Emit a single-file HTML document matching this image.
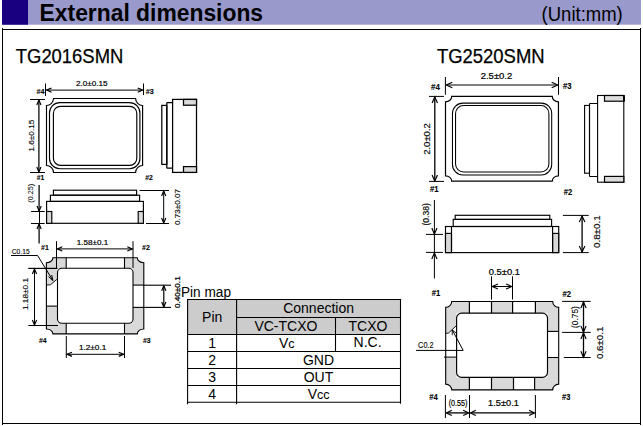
<!DOCTYPE html>
<html lang="en">
<head>
<meta charset="utf-8">
<title>External dimensions</title>
<style>
html,body{margin:0;padding:0;background:#fff;}
body{width:643px;height:426px;overflow:hidden;}
svg{display:block;}
svg text{font-family:"Liberation Sans",sans-serif;}
</style>
</head>
<body>
<svg width="643" height="426" viewBox="0 0 643 426">
<rect x="0" y="0" width="643" height="426" fill="#fff"/>
<rect x="2" y="0" width="639" height="24.7" fill="#9999cc"/>
<rect x="2" y="0" width="26" height="24.7" fill="#180080"/>
<text x="39.6" y="20.6" font-size="23" font-weight="bold" textLength="223.5" lengthAdjust="spacingAndGlyphs" fill="#000">External dimensions</text>
<text x="541.6" y="20.6" font-size="19.3" textLength="81.2" lengthAdjust="spacingAndGlyphs" fill="#000">(Unit:mm)</text>
<line x1="2" y1="29.5" x2="641" y2="29.5" stroke="#000" stroke-width="1" />
<line x1="2" y1="423.5" x2="641" y2="423.5" stroke="#000" stroke-width="1" />
<line x1="2.5" y1="28" x2="2.5" y2="425" stroke="#000" stroke-width="1" />
<line x1="640.5" y1="28" x2="640.5" y2="425" stroke="#000" stroke-width="1" />
<text x="15.8" y="62.7" font-size="19.3" textLength="107.5" lengthAdjust="spacingAndGlyphs" stroke="#000" stroke-width="0.25" fill="#000">TG2016SMN</text>
<text x="436.9" y="62.8" font-size="19.3" textLength="107.7" lengthAdjust="spacingAndGlyphs" stroke="#000" stroke-width="0.25" fill="#000">TG2520SMN</text>
<path d="M53.5,98.5 L135.6,98.5 A7,7 0 0 0 142.6,105.5 L142.6,165.5 A7,7 0 0 0 135.6,172.5 L53.5,172.5 A7,7 0 0 0 46.5,165.5 L46.5,105.5 A7,7 0 0 0 53.5,98.5 Z" fill="none" stroke="#000" stroke-width="1.15" />
<rect x="49.5" y="102.6" width="90.4" height="66.1" rx="10.3" fill="none" stroke="#000" stroke-width="1.15"/>
<rect x="53.4" y="106.4" width="83.4" height="58.9" rx="7" fill="none" stroke="#000" stroke-width="1.15"/>
<line x1="45.5" y1="83.5" x2="45.5" y2="96" stroke="#000" stroke-width="1" />
<line x1="143.5" y1="83.5" x2="143.5" y2="95" stroke="#000" stroke-width="1" />
<line x1="46.5" y1="90.1" x2="142.7" y2="90.1" stroke="#000" stroke-width="1" />
<path d="M51.5,88.0 L46.5,90.1 L51.5,92.19999999999999" fill="none" stroke="#000" stroke-width="1.15" />
<path d="M137.7,88.0 L142.7,90.1 L137.7,92.19999999999999" fill="none" stroke="#000" stroke-width="1.15" />
<text x="91.7" y="86.2" font-size="7.9" text-anchor="middle" textLength="31.6" lengthAdjust="spacingAndGlyphs" stroke="#000" stroke-width="0.2" fill="#000">2.0±0.15</text>
<text x="36.5" y="94" font-size="7.4" font-weight="bold" textLength="8" lengthAdjust="spacingAndGlyphs" stroke="#000" stroke-width="0.1" fill="#000">#4</text>
<text x="145.8" y="94" font-size="7.4" font-weight="bold" textLength="8" lengthAdjust="spacingAndGlyphs" stroke="#000" stroke-width="0.1" fill="#000">#3</text>
<text x="36.8" y="180" font-size="7.4" font-weight="bold" textLength="7.6" lengthAdjust="spacingAndGlyphs" stroke="#000" stroke-width="0.1" fill="#000">#1</text>
<text x="145.2" y="180" font-size="7.4" font-weight="bold" textLength="7.6" lengthAdjust="spacingAndGlyphs" stroke="#000" stroke-width="0.1" fill="#000">#2</text>
<line x1="30" y1="99.5" x2="45" y2="99.5" stroke="#000" stroke-width="1" />
<line x1="30" y1="172.5" x2="45" y2="172.5" stroke="#000" stroke-width="1" />
<line x1="38.9" y1="100" x2="38.9" y2="172" stroke="#000" stroke-width="1.25" />
<path d="M36.8,105.0 L38.9,100 L41.0,105.0" fill="none" stroke="#000" stroke-width="1.15" />
<path d="M36.8,167.0 L38.9,172 L41.0,167.0" fill="none" stroke="#000" stroke-width="1.15" />
<text x="33.6" y="135.6" font-size="7.9" text-anchor="middle" textLength="31.8" lengthAdjust="spacingAndGlyphs" transform="rotate(-90 33.6 135.6)" stroke="#000" stroke-width="0.14" fill="#000">1.6±0.15</text>
<rect x="161.8" y="105.4" width="5.0" height="59.0" fill="none" stroke="#000" stroke-width="1.25"/>
<path d="M166.8,102.5 L172.6,102.5 M166.8,168.2 L172.6,168.2 M166.8,102.5 L166.8,168.2" fill="none" stroke="#000" stroke-width="1.25" />
<rect x="172.6" y="99.4" width="23.9" height="73.0" fill="none" stroke="#000" stroke-width="1.25"/>
<rect x="183.5" y="99.4" width="13.0" height="5.8" fill="#d9d9d9" stroke="#000" stroke-width="1.25"/>
<rect x="183.5" y="166.6" width="13.0" height="5.8" fill="#d9d9d9" stroke="#000" stroke-width="1.25"/>
<rect x="53.4" y="190.2" width="83.2" height="5.0" fill="none" stroke="#000" stroke-width="1.15"/>
<rect x="50.4" y="195.2" width="89.2" height="6.2" fill="none" stroke="#000" stroke-width="1.15"/>
<rect x="46.6" y="201.4" width="96.8" height="21.9" fill="none" stroke="#000" stroke-width="1.15"/>
<rect x="46.6" y="211.5" width="5.2" height="11.8" fill="#d9d9d9" stroke="#000" stroke-width="1.15"/>
<rect x="138.2" y="211.5" width="5.2" height="11.8" fill="#d9d9d9" stroke="#000" stroke-width="1.15"/>
<line x1="31" y1="211.5" x2="44.7" y2="211.5" stroke="#000" stroke-width="1" />
<line x1="31" y1="223.5" x2="44.7" y2="223.5" stroke="#000" stroke-width="1" />
<line x1="39.1" y1="185" x2="39.1" y2="211" stroke="#000" stroke-width="1.25" />
<line x1="39.5" y1="211" x2="39.5" y2="224" stroke="#000" stroke-width="1" />
<line x1="39.1" y1="224" x2="39.1" y2="243.5" stroke="#000" stroke-width="1.25" />
<path d="M37.0,206.0 L39.1,211 L41.2,206.0" fill="none" stroke="#000" stroke-width="1.15" />
<path d="M37.0,229.0 L39.1,224 L41.2,229.0" fill="none" stroke="#000" stroke-width="1.15" />
<text x="33.2" y="193.2" font-size="7.9" text-anchor="middle" textLength="19" lengthAdjust="spacingAndGlyphs" transform="rotate(-90 33.2 193.2)" stroke="#000" stroke-width="0.04" fill="#000">(0.25)</text>
<line x1="139.5" y1="190.5" x2="169" y2="190.5" stroke="#000" stroke-width="1" />
<line x1="146" y1="223.5" x2="169" y2="223.5" stroke="#000" stroke-width="1" />
<line x1="163.7" y1="191" x2="163.7" y2="223" stroke="#000" stroke-width="1" />
<path d="M161.6,196 L163.7,191 L165.79999999999998,196" fill="none" stroke="#000" stroke-width="1.15" />
<path d="M161.6,218 L163.7,223 L165.79999999999998,218" fill="none" stroke="#000" stroke-width="1.15" />
<text x="180" y="207" font-size="7.9" text-anchor="middle" textLength="36" lengthAdjust="spacingAndGlyphs" transform="rotate(-90 180 207)" stroke="#000" stroke-width="0.14" fill="#000">0.73±0.07</text>
<path d="M52.9,257.8 L66.2,257.8 L66.2,268.3 L57.5,268.3 L57.5,278.9 L50.4,284.8 L46.4,285 L46.4,262.7 A6.5,4.9 0 0 0 52.9,257.8 Z" fill="#d9d9d9" stroke="none" stroke-width="1" />
<path d="M137.3,257.8 L124.5,257.8 L124.5,268.3 L133.0,268.3 L133.0,285.1 L143.8,285.1 L143.8,262.7 A6.5,4.9 0 0 1 137.3,257.8 Z" fill="#d9d9d9" stroke="none" stroke-width="1" />
<path d="M52.9,333.9 L66.2,333.9 L66.2,323.3 L57.5,323.3 L57.5,306.1 L46.4,306.1 L46.4,329.0 A6.5,4.9 0 0 1 52.9,333.9 Z" fill="#d9d9d9" stroke="none" stroke-width="1" />
<path d="M137.3,333.9 L124.5,333.9 L124.5,323.3 L133.0,323.3 L133.0,307.4 L143.8,307.4 L143.8,329.0 A6.5,4.9 0 0 0 137.3,333.9 Z" fill="#d9d9d9" stroke="none" stroke-width="1" />
<rect x="57.5" y="268.3" width="75.5" height="55.0" rx="4.3" fill="#fff" stroke="#000" stroke-width="1.1"/>
<path d="M52.9,257.8 L137.3,257.8 A6.5,4.9 0 0 0 143.8,262.7 L143.8,329.0 A6.5,4.9 0 0 0 137.3,333.9 L52.9,333.9 A6.5,4.9 0 0 0 46.4,329.0 L46.4,262.7 A6.5,4.9 0 0 0 52.9,257.8 Z" fill="none" stroke="#000" stroke-width="1.1" />
<line x1="66.2" y1="257.8" x2="66.2" y2="268.3" stroke="#000" stroke-width="1.1" />
<line x1="124.5" y1="257.8" x2="124.5" y2="268.3" stroke="#000" stroke-width="1.1" />
<line x1="66.2" y1="323.3" x2="66.2" y2="333.9" stroke="#000" stroke-width="1.1" />
<line x1="124.5" y1="323.3" x2="124.5" y2="333.9" stroke="#000" stroke-width="1.1" />
<line x1="46.4" y1="306.1" x2="57.5" y2="306.1" stroke="#000" stroke-width="1.1" />
<line x1="133.0" y1="285.1" x2="143.8" y2="285.1" stroke="#000" stroke-width="1.1" />
<line x1="133.0" y1="307.4" x2="143.8" y2="307.4" stroke="#000" stroke-width="1.1" />
<path d="M57.5,278.9 L50.4,284.8 L46.4,285" fill="none" stroke="#000" stroke-width="0.9" />
<line x1="56.5" y1="241.2" x2="56.5" y2="268" stroke="#000" stroke-width="1" />
<line x1="133" y1="241.2" x2="133" y2="268" stroke="#000" stroke-width="1" />
<line x1="57.3" y1="248.9" x2="132.3" y2="248.9" stroke="#000" stroke-width="1" />
<path d="M62.3,246.8 L57.3,248.9 L62.3,251.0" fill="none" stroke="#000" stroke-width="1.15" />
<path d="M127.30000000000001,246.8 L132.3,248.9 L127.30000000000001,251.0" fill="none" stroke="#000" stroke-width="1.15" />
<text x="92.5" y="244.8" font-size="7.9" text-anchor="middle" textLength="31.4" lengthAdjust="spacingAndGlyphs" stroke="#000" stroke-width="0.2" fill="#000">1.58±0.1</text>
<text x="41.1" y="250" font-size="7.4" font-weight="bold" textLength="7.7" lengthAdjust="spacingAndGlyphs" stroke="#000" stroke-width="0.1" fill="#000">#1</text>
<text x="142" y="250" font-size="7.4" font-weight="bold" textLength="7.8" lengthAdjust="spacingAndGlyphs" stroke="#000" stroke-width="0.1" fill="#000">#2</text>
<text x="39" y="343" font-size="7.4" font-weight="bold" textLength="7.6" lengthAdjust="spacingAndGlyphs" stroke="#000" stroke-width="0.1" fill="#000">#4</text>
<text x="143" y="343" font-size="7.4" font-weight="bold" textLength="7.7" lengthAdjust="spacingAndGlyphs" stroke="#000" stroke-width="0.1" fill="#000">#3</text>
<line x1="28.3" y1="268.4" x2="57.5" y2="268.4" stroke="#000" stroke-width="1.2" />
<line x1="28.3" y1="325.5" x2="58" y2="325.5" stroke="#000" stroke-width="1" />
<line x1="34.5" y1="269" x2="34.5" y2="325" stroke="#000" stroke-width="1" />
<path d="M32.4,274.0 L34.5,269 L36.6,274.0" fill="none" stroke="#000" stroke-width="1.15" />
<path d="M32.4,320.0 L34.5,325 L36.6,320.0" fill="none" stroke="#000" stroke-width="1.15" />
<text x="27.7" y="294" font-size="7.9" text-anchor="middle" textLength="32" lengthAdjust="spacingAndGlyphs" transform="rotate(-90 27.7 294)" stroke="#000" stroke-width="0.14" fill="#000">1.18±0.1</text>
<line x1="66.3" y1="336" x2="66.3" y2="358" stroke="#000" stroke-width="1" />
<line x1="124.5" y1="336" x2="124.5" y2="358" stroke="#000" stroke-width="1" />
<line x1="67" y1="354.3" x2="123.7" y2="354.3" stroke="#000" stroke-width="1" />
<path d="M72.0,352.2 L67,354.3 L72.0,356.40000000000003" fill="none" stroke="#000" stroke-width="1.15" />
<path d="M118.7,352.2 L123.7,354.3 L118.7,356.40000000000003" fill="none" stroke="#000" stroke-width="1.15" />
<text x="92.6" y="350" font-size="7.9" text-anchor="middle" textLength="27.4" lengthAdjust="spacingAndGlyphs" stroke="#000" stroke-width="0.2" fill="#000">1.2±0.1</text>
<text x="11.8" y="254" font-size="7.4" textLength="17.8" lengthAdjust="spacingAndGlyphs" stroke="#000" stroke-width="0.12" fill="#000">C0.15</text>
<path d="M11,255.5 L37.6,255.5 L52.9,280.5" fill="none" stroke="#000" stroke-width="1" />
<path d="M48.5,276.6 L52.9,280.5 L51.7,275" fill="none" stroke="#000" stroke-width="1" />
<line x1="143.8" y1="285.2" x2="171" y2="285.2" stroke="#000" stroke-width="1.1" />
<line x1="143.8" y1="307.4" x2="171" y2="307.4" stroke="#000" stroke-width="1.1" />
<line x1="163.8" y1="285.8" x2="163.8" y2="307" stroke="#000" stroke-width="1.2" />
<path d="M161.70000000000002,290.8 L163.8,285.8 L165.9,290.8" fill="none" stroke="#000" stroke-width="1.15" />
<path d="M161.70000000000002,302.0 L163.8,307 L165.9,302.0" fill="none" stroke="#000" stroke-width="1.15" />
<text x="179.6" y="292.2" font-size="7.3" text-anchor="middle" textLength="31.8" lengthAdjust="spacingAndGlyphs" transform="rotate(-90 179.6 292.2)" stroke="#000" stroke-width="0.25" fill="#000">0.40±0.1</text>
<text x="181.0" y="297" font-size="13.8" textLength="50" lengthAdjust="spacingAndGlyphs" fill="#000">Pin map</text>
<rect x="187.6" y="299.45" width="212.9" height="35.0" fill="#cccccc"/>
<line x1="187.6" y1="298.95" x2="187.6" y2="404.2" stroke="#000" stroke-width="1.1" />
<line x1="400.5" y1="298.95" x2="400.5" y2="403.7" stroke="#000" stroke-width="1.1" />
<line x1="236.6" y1="299.45" x2="236.6" y2="404.2" stroke="#000" stroke-width="1.1" />
<line x1="335.5" y1="317.45" x2="335.5" y2="351.5" stroke="#000" stroke-width="1.1" />
<line x1="187.6" y1="299.45" x2="400.5" y2="299.45" stroke="#000" stroke-width="1.1" />
<line x1="236.6" y1="317.45" x2="400.5" y2="317.45" stroke="#000" stroke-width="1.1" />
<line x1="187.6" y1="334.45" x2="400.5" y2="334.45" stroke="#000" stroke-width="1.1" />
<line x1="187.6" y1="351.5" x2="400.5" y2="351.5" stroke="#000" stroke-width="1.1" />
<line x1="187.6" y1="368.5" x2="400.5" y2="368.5" stroke="#000" stroke-width="1.1" />
<line x1="187.6" y1="385.45" x2="400.5" y2="385.45" stroke="#000" stroke-width="1.1" />
<line x1="187.6" y1="402.2" x2="400.5" y2="402.2" stroke="#000" stroke-width="1.1" />
<text x="212.2" y="321.9" font-size="14" text-anchor="middle" fill="#000">Pin</text>
<text x="318.6" y="313.2" font-size="14" text-anchor="middle" fill="#000">Connection</text>
<text x="285.9" y="330.5" font-size="14" text-anchor="middle" fill="#000">VC-TCXO</text>
<text x="368" y="330.5" font-size="14" text-anchor="middle" fill="#000">TCXO</text>
<text x="212.2" y="347.6" font-size="14" text-anchor="middle" fill="#000">1</text>
<text x="286.7" y="347.7" font-size="14" text-anchor="middle" fill="#000">V<tspan font-size="12.6">c</tspan></text>
<text x="367.6" y="347.4" font-size="14" text-anchor="middle" fill="#000">N.C.</text>
<text x="212.2" y="364.7" font-size="14" text-anchor="middle" fill="#000">2</text>
<text x="318.5" y="364.6" font-size="14" text-anchor="middle" fill="#000">GND</text>
<text x="212.2" y="381.9" font-size="14" text-anchor="middle" fill="#000">3</text>
<text x="318.5" y="381.7" font-size="14" text-anchor="middle" fill="#000">OUT</text>
<text x="212.2" y="398.7" font-size="14" text-anchor="middle" fill="#000">4</text>
<text x="318.7" y="398.8" font-size="14" text-anchor="middle" fill="#000">V<tspan font-size="12.6">cc</tspan></text>
<path d="M451.7,96.4 L552.25,96.4 A6.2,5.4 0 0 0 558.45,101.80000000000001 L558.45,175.79999999999998 A6.2,5.4 0 0 0 552.25,181.2 L451.7,181.2 A6.2,5.4 0 0 0 445.5,175.79999999999998 L445.5,101.80000000000001 A6.2,5.4 0 0 0 451.7,96.4 Z" fill="none" stroke="#000" stroke-width="1.2" />
<rect x="452.45" y="103.1" width="99.25" height="71.8" rx="10.4" fill="none" stroke="#000" stroke-width="1.05"/>
<rect x="455.55" y="105.55" width="93.35" height="66.35" rx="8" fill="none" stroke="#000" stroke-width="1.05"/>
<line x1="445.4" y1="77" x2="445.4" y2="94.8" stroke="#000" stroke-width="1" />
<line x1="558.5" y1="77" x2="558.5" y2="94.8" stroke="#000" stroke-width="1" />
<line x1="446.3" y1="85" x2="557.7" y2="85" stroke="#000" stroke-width="1" />
<path d="M452.3,82.3 L446.3,85 L452.3,87.7" fill="none" stroke="#000" stroke-width="1.15" />
<path d="M551.7,82.3 L557.7,85 L551.7,87.7" fill="none" stroke="#000" stroke-width="1.15" />
<text x="496.5" y="79.3" font-size="8.4" text-anchor="middle" textLength="31.6" lengthAdjust="spacingAndGlyphs" stroke="#000" stroke-width="0.2" fill="#000">2.5±0.2</text>
<text x="431.1" y="90.2" font-size="8.3" font-weight="bold" textLength="8.8" lengthAdjust="spacingAndGlyphs" stroke="#000" stroke-width="0.1" fill="#000">#4</text>
<text x="562.9" y="89.3" font-size="8.3" font-weight="bold" textLength="8.6" lengthAdjust="spacingAndGlyphs" stroke="#000" stroke-width="0.1" fill="#000">#3</text>
<text x="430" y="192.3" font-size="8.3" font-weight="bold" textLength="8.6" lengthAdjust="spacingAndGlyphs" stroke="#000" stroke-width="0.1" fill="#000">#1</text>
<text x="563.8" y="195.4" font-size="8.3" font-weight="bold" textLength="8.4" lengthAdjust="spacingAndGlyphs" stroke="#000" stroke-width="0.1" fill="#000">#2</text>
<line x1="429" y1="96.4" x2="444" y2="96.4" stroke="#000" stroke-width="1" />
<line x1="429" y1="181.4" x2="444" y2="181.4" stroke="#000" stroke-width="1" />
<line x1="434.8" y1="96.9" x2="434.8" y2="181" stroke="#000" stroke-width="1.3" />
<path d="M432.1,102.9 L434.8,96.9 L437.5,102.9" fill="none" stroke="#000" stroke-width="1.15" />
<path d="M432.1,175 L434.8,181 L437.5,175" fill="none" stroke="#000" stroke-width="1.15" />
<text x="429.8" y="139" font-size="8.4" text-anchor="middle" textLength="31.6" lengthAdjust="spacingAndGlyphs" transform="rotate(-90 429.8 139)" stroke="#000" stroke-width="0.14" fill="#000">2.0±0.2</text>
<rect x="584.6" y="105.45" width="4.9" height="67.75" fill="none" stroke="#000" stroke-width="1.1"/>
<path d="M589.5,103.5 L597.6,103.5 M589.5,176.5 L597.6,176.5 M589.5,103.5 L589.5,176.5" fill="none" stroke="#000" stroke-width="1.1" />
<rect x="597.6" y="95.5" width="26.2" height="86.7" fill="none" stroke="#000" stroke-width="1.1"/>
<rect x="604.5" y="95.5" width="19.3" height="5.7" fill="#dcdcdc" stroke="#000" stroke-width="1.2"/>
<rect x="604.5" y="176.4" width="19.3" height="5.8" fill="#dcdcdc" stroke="#000" stroke-width="1.2"/>
<line x1="624" y1="95.2" x2="624" y2="101.5" stroke="#000" stroke-width="1.8" />
<rect x="455.2" y="215.3" width="94.6" height="4.1" fill="none" stroke="#000" stroke-width="1.15"/>
<rect x="453.2" y="219.4" width="98.4" height="7.1" fill="none" stroke="#000" stroke-width="1.15"/>
<rect x="445.5" y="226.5" width="113.2" height="26.1" fill="none" stroke="#000" stroke-width="1.15"/>
<rect x="445.5" y="233.4" width="6.0" height="19.2" fill="#d9d9d9" stroke="#000" stroke-width="1.15"/>
<rect x="552.6" y="233.4" width="6.1" height="19.2" fill="#d9d9d9" stroke="#000" stroke-width="1.15"/>
<line x1="451.5" y1="226.5" x2="451.5" y2="252.6" stroke="#000" stroke-width="1.15" />
<line x1="552.6" y1="226.5" x2="552.6" y2="252.6" stroke="#000" stroke-width="1.15" />
<line x1="426" y1="234.4" x2="443" y2="234.4" stroke="#000" stroke-width="1" />
<line x1="426" y1="252.4" x2="443" y2="252.4" stroke="#000" stroke-width="1" />
<line x1="434.4" y1="200" x2="434.4" y2="278.5" stroke="#000" stroke-width="1" />
<path d="M431.79999999999995,228 L434.4,234 L437.0,228" fill="none" stroke="#000" stroke-width="1.15" />
<path d="M431.79999999999995,259 L434.4,253 L437.0,259" fill="none" stroke="#000" stroke-width="1.15" />
<text x="429.4" y="214.3" font-size="8.4" text-anchor="middle" textLength="22.4" lengthAdjust="spacingAndGlyphs" transform="rotate(-90 429.4 214.3)" stroke="#000" stroke-width="0.14" fill="#000">(0.38)</text>
<line x1="562.9" y1="215.4" x2="588.7" y2="215.4" stroke="#000" stroke-width="1" />
<line x1="562.9" y1="252.6" x2="588.7" y2="252.6" stroke="#000" stroke-width="1" />
<line x1="582.1" y1="216" x2="582.1" y2="252" stroke="#000" stroke-width="1.3" />
<path d="M579.3000000000001,222 L582.1,216 L584.9,222" fill="none" stroke="#000" stroke-width="1.15" />
<path d="M579.3000000000001,246 L582.1,252 L584.9,246" fill="none" stroke="#000" stroke-width="1.15" />
<text x="600.4" y="231.7" font-size="8.4" text-anchor="middle" textLength="32.6" lengthAdjust="spacingAndGlyphs" transform="rotate(-90 600.4 231.7)" stroke="#000" stroke-width="0.14" fill="#000">0.8±0.1</text>
<path d="M451.7,301.5 L469.4,301.5 L469.4,313.1 L456.6,313.1 L456.6,325.4 L448.6,333 L445.7,333.4 L445.7,307.3 A6,5.8 0 0 0 451.7,301.5 Z" fill="#d9d9d9" stroke="none" stroke-width="1" />
<path d="M552.7,301.5 L535.4,301.5 L535.4,313.1 L547.5,313.1 L547.5,331.4 L558.7,331.4 L558.7,307.3 A6,5.8 0 0 1 552.7,301.5 Z" fill="#d9d9d9" stroke="none" stroke-width="1" />
<path d="M451.7,389.9 L469.4,389.9 L469.4,377.4 L456.6,377.4 L456.6,357.1 L445.7,357.1 L445.7,384.09999999999997 A6,5.8 0 0 1 451.7,389.9 Z" fill="#d9d9d9" stroke="none" stroke-width="1" />
<path d="M552.7,389.9 L534.6,389.9 L534.6,377.4 L547.5,377.4 L547.5,357.5 L558.7,357.5 L558.7,384.09999999999997 A6,5.8 0 0 0 552.7,389.9 Z" fill="#d9d9d9" stroke="none" stroke-width="1" />
<rect x="491.5" y="301.5" width="21.1" height="11.6" fill="#d9d9d9" stroke="none" stroke-width="1"/>
<rect x="491.5" y="377.4" width="22.0" height="12.5" fill="#d9d9d9" stroke="none" stroke-width="1"/>
<rect x="456.6" y="313.1" width="90.9" height="64.3" rx="5" fill="#fff" stroke="#000" stroke-width="1.15"/>
<path d="M451.7,301.5 L552.7,301.5 A6,5.8 0 0 0 558.7,307.3 L558.7,384.09999999999997 A6,5.8 0 0 0 552.7,389.9 L451.7,389.9 A6,5.8 0 0 0 445.7,384.09999999999997 L445.7,307.3 A6,5.8 0 0 0 451.7,301.5 Z" fill="none" stroke="#000" stroke-width="1.1" />
<line x1="469.4" y1="301.5" x2="469.4" y2="313.1" stroke="#000" stroke-width="1.2" />
<line x1="491.5" y1="301.5" x2="491.5" y2="313.1" stroke="#000" stroke-width="1.2" />
<line x1="512.6" y1="301.5" x2="512.6" y2="313.1" stroke="#000" stroke-width="1.2" />
<line x1="535.4" y1="301.5" x2="535.4" y2="313.1" stroke="#000" stroke-width="1.2" />
<line x1="469.4" y1="377.4" x2="469.4" y2="389.9" stroke="#000" stroke-width="1.2" />
<line x1="491.5" y1="377.4" x2="491.5" y2="389.9" stroke="#000" stroke-width="1.2" />
<line x1="513.5" y1="377.4" x2="513.5" y2="389.9" stroke="#000" stroke-width="1.2" />
<line x1="534.6" y1="377.4" x2="534.6" y2="389.9" stroke="#000" stroke-width="1.2" />
<line x1="444" y1="357.1" x2="456.6" y2="357.1" stroke="#000" stroke-width="1" />
<line x1="547.5" y1="331.4" x2="558.7" y2="331.4" stroke="#000" stroke-width="1.1" />
<line x1="547.5" y1="357.5" x2="558.7" y2="357.5" stroke="#000" stroke-width="1.1" />
<path d="M456.6,325.4 L448.6,333 L445.7,333.4" fill="none" stroke="#000" stroke-width="0.9" />
<line x1="491.5" y1="276.3" x2="491.5" y2="299.5" stroke="#000" stroke-width="1" />
<line x1="512.5" y1="276.3" x2="512.5" y2="299.5" stroke="#000" stroke-width="1" />
<line x1="492.3" y1="286.5" x2="511.7" y2="286.5" stroke="#000" stroke-width="1" />
<path d="M497.90000000000003,283.9 L492.3,286.5 L497.90000000000003,289.1" fill="none" stroke="#000" stroke-width="1.15" />
<path d="M506.09999999999997,283.9 L511.7,286.5 L506.09999999999997,289.1" fill="none" stroke="#000" stroke-width="1.15" />
<text x="504.4" y="275.1" font-size="8.4" text-anchor="middle" textLength="31.2" lengthAdjust="spacingAndGlyphs" stroke="#000" stroke-width="0.2" fill="#000">0.5±0.1</text>
<text x="431.8" y="295.9" font-size="8.3" font-weight="bold" textLength="8.5" lengthAdjust="spacingAndGlyphs" stroke="#000" stroke-width="0.1" fill="#000">#1</text>
<text x="562.6" y="297.1" font-size="8.3" font-weight="bold" textLength="8.5" lengthAdjust="spacingAndGlyphs" stroke="#000" stroke-width="0.1" fill="#000">#2</text>
<text x="429.3" y="399.9" font-size="8.3" font-weight="bold" textLength="8.5" lengthAdjust="spacingAndGlyphs" stroke="#000" stroke-width="0.1" fill="#000">#4</text>
<text x="562" y="399.9" font-size="8.3" font-weight="bold" textLength="8.3" lengthAdjust="spacingAndGlyphs" stroke="#000" stroke-width="0.1" fill="#000">#3</text>
<text x="418.1" y="348" font-size="8.4" textLength="15.5" lengthAdjust="spacingAndGlyphs" stroke="#000" stroke-width="0.1" fill="#000">C0.2</text>
<path d="M416,350.4 L463.2,350.4 L452.3,330" fill="none" stroke="#000" stroke-width="1" />
<path d="M452.2,335.2 L452.3,330 L456.3,333.2" fill="none" stroke="#000" stroke-width="0.9" />
<line x1="445.4" y1="395" x2="445.4" y2="418" stroke="#000" stroke-width="1" />
<line x1="469.5" y1="395" x2="469.5" y2="418" stroke="#000" stroke-width="1" />
<line x1="535.4" y1="395" x2="535.4" y2="418" stroke="#000" stroke-width="1" />
<line x1="446.4" y1="412.9" x2="468.6" y2="412.9" stroke="#000" stroke-width="1.3" />
<path d="M451.79999999999995,410.2 L446.4,412.9 L451.79999999999995,415.59999999999997" fill="none" stroke="#000" stroke-width="1.15" />
<path d="M463.20000000000005,410.2 L468.6,412.9 L463.20000000000005,415.59999999999997" fill="none" stroke="#000" stroke-width="1.15" />
<line x1="470.4" y1="412.9" x2="534.5" y2="412.9" stroke="#000" stroke-width="1.3" />
<path d="M475.79999999999995,410.2 L470.4,412.9 L475.79999999999995,415.59999999999997" fill="none" stroke="#000" stroke-width="1.15" />
<path d="M529.1,410.2 L534.5,412.9 L529.1,415.59999999999997" fill="none" stroke="#000" stroke-width="1.15" />
<text x="458.1" y="406.1" font-size="8.4" text-anchor="middle" textLength="18.9" lengthAdjust="spacingAndGlyphs" stroke="#000" stroke-width="0.2" fill="#000">(0.55)</text>
<text x="503.5" y="406.1" font-size="8.4" text-anchor="middle" textLength="30.8" lengthAdjust="spacingAndGlyphs" stroke="#000" stroke-width="0.2" fill="#000">1.5±0.1</text>
<line x1="562.1" y1="301.4" x2="590.7" y2="301.4" stroke="#000" stroke-width="1" />
<line x1="562.1" y1="332.4" x2="590.7" y2="332.4" stroke="#000" stroke-width="1" />
<line x1="563.8" y1="357.5" x2="590.7" y2="357.5" stroke="#000" stroke-width="1" />
<line x1="583.5" y1="302" x2="583.5" y2="332" stroke="#000" stroke-width="1.3" />
<path d="M580.9,308 L583.5,302 L586.1,308" fill="none" stroke="#000" stroke-width="1.15" />
<path d="M580.9,326 L583.5,332 L586.1,326" fill="none" stroke="#000" stroke-width="1.15" />
<line x1="583.5" y1="333" x2="583.5" y2="357.3" stroke="#000" stroke-width="1.3" />
<path d="M580.9,339 L583.5,333 L586.1,339" fill="none" stroke="#000" stroke-width="1.15" />
<path d="M580.9,351.3 L583.5,357.3 L586.1,351.3" fill="none" stroke="#000" stroke-width="1.15" />
<text x="577.7" y="317" font-size="8.4" text-anchor="middle" textLength="21.8" lengthAdjust="spacingAndGlyphs" transform="rotate(-90 577.7 317)" stroke="#000" stroke-width="0.14" fill="#000">(0.75)</text>
<text x="603.4" y="342.8" font-size="8.4" text-anchor="middle" textLength="32.4" lengthAdjust="spacingAndGlyphs" transform="rotate(-90 603.4 342.8)" stroke="#000" stroke-width="0.14" fill="#000">0.6±0.1</text>
</svg>
</body>
</html>
